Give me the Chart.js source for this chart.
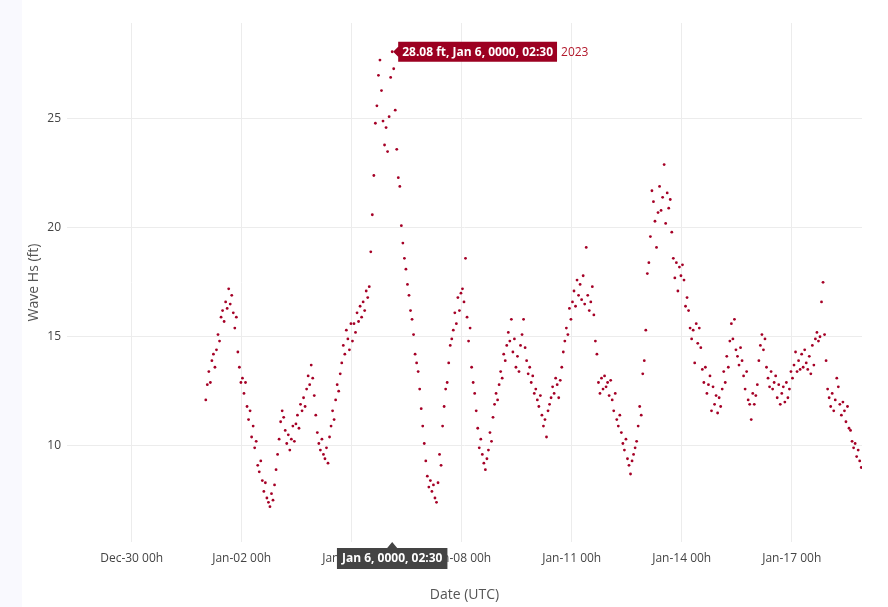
<!DOCTYPE html>
<html><head><meta charset="utf-8">
<script src="https://cdn.jsdelivr.net/npm/chart.js@4"></script>
<style>
html,body{margin:0;padding:0;background:#f9f9fe;width:888px;height:607px;overflow:hidden}
#wrap{position:absolute;left:22px;top:0;width:866px;height:607px;background:#fff}
</style></head><body>
<div id="wrap"><canvas id="c" width="866" height="607"></canvas></div>
<script>
// Hourly wave Hs (ft), starting Jan 1 00:30 UTC, one array per day
const day01=[12.1,12.8,13.4,12.9,13.9,14.2,13.6,14.4,15.1,14.8,15.9,16.2,15.7,16.6,16.3,17.2,16.5,16.9,16.1,15.4,15.9,14.3,13.6,12.9];
const day02=[13.1,12.4,12.9,11.8,11.2,11.6,10.4,10.9,9.9,10.2,9.1,8.8,9.3,8.4,7.9,8.3,7.6,7.4,7.2,7.8,7.5,8.2,8.9,9.6];
const day03=[10.3,11.1,11.6,11.3,10.7,10.1,10.5,9.8,10.3,10.9,10.2,11.0,11.4,10.8,11.9,11.6,12.2,11.8,12.6,13.2,12.8,13.7,13.1,12.3];
const day04=[11.4,10.6,10.1,9.8,10.3,9.6,9.4,9.9,9.2,10.4,10.9,11.6,11.2,12.1,12.8,12.5,13.3,13.8,14.6,14.2,15.3,14.9,14.4,15.6];
const day05=[14.8,15.6,15.2,16.1,15.7,16.4,15.9,16.6,16.2,17.1,16.8,17.3,18.9,20.6,22.4,24.8,25.6,27.0,27.7,26.3,24.9,23.8,24.6,23.5];
const day06=[25.1,26.9,28.08,27.3,25.4,23.6,22.3,21.9,20.1,19.3,18.6,18.1,17.4,16.9,16.2,15.8,15.1,14.2,13.8,13.4,12.6,11.7,10.9,10.1];
const day07=[9.3,8.6,8.1,8.4,7.9,8.2,7.6,7.4,8.3,9.6,9.1,10.9,11.8,12.6,12.9,13.8,14.6,14.9,15.3,16.1,15.6,16.8,16.2,17.0];
const day08=[17.2,16.6,18.6,15.9,14.8,15.4,13.6,12.9,12.4,11.6,10.8,9.9,10.3,9.6,9.2,8.9,9.4,9.8,10.6,10.2,11.3,11.9,12.4,12.1];
const day09=[12.8,13.4,13.1,14.2,13.9,14.6,15.2,14.8,15.8,14.3,14.9,13.6,14.1,13.4,14.6,15.1,15.8,14.5,13.9,13.3,13.6,12.9,13.2,12.4];
const day10=[12.6,12.1,11.8,12.3,11.4,10.9,11.2,10.4,11.6,11.9,12.2,12.7,12.4,13.1,12.8,12.2,13.0,13.6,14.3,14.8,15.4,15.1,16.3,15.8];
const day11=[16.6,17.1,16.4,17.6,16.9,17.4,16.7,17.8,16.5,19.1,16.9,16.2,16.6,17.3,16.0,14.8,14.2,12.9,12.4,13.1,12.6,13.2,12.7,12.9];
const day12=[12.3,13.0,12.1,11.6,12.4,11.2,10.9,11.4,10.6,10.1,9.8,10.3,9.4,9.1,8.7,9.3,9.6,9.9,10.2,10.9,11.8,11.4,13.3,13.9];
const day13=[15.3,17.9,18.4,19.6,21.7,21.2,20.3,19.1,20.7,21.9,20.8,21.4,22.9,20.2,21.6,20.9,21.3,19.8,18.6,17.7,18.4,17.1,18.2,17.8];
const day14=[18.3,17.6,16.4,16.8,16.2,15.4,14.9,15.3,13.8,15.6,14.7,15.4,14.5,13.5,12.9,13.6,12.4,12.8,13.2,11.6,12.7,11.9,12.3,11.5];
const day15=[12.2,11.8,12.6,13.4,12.9,14.1,13.6,14.8,15.6,14.9,15.8,14.4,14.1,13.7,14.5,13.9,13.2,12.6,13.4,12.1,11.9,11.2,12.4,11.9];
const day16=[12.3,12.8,13.9,14.6,15.1,14.4,14.9,13.6,13.1,12.7,13.4,12.6,12.9,13.2,12.2,12.8,11.9,12.4,12.7,12.0,12.9,12.2,12.6,13.4];
const day17=[13.1,13.7,14.3,13.4,13.9,13.5,14.2,13.6,14.4,13.8,13.5,14.1,13.3,14.6,13.7,14.9,15.2,14.8,15.0,16.6,17.5,15.1,13.9,12.6];
const day18=[12.2,11.8,12.4,11.6,12.1,13.1,12.7,11.9,11.4,12.0,11.6,11.1,11.8,10.8,10.7,10.2,9.9,10.1,9.5,9.8,9.3,9.0];
const xTickLabels=['Dec-30 00h','Jan-02 00h','Jan-05 00h','Jan-08 00h','Jan-11 00h','Jan-14 00h','Jan-17 00h'];
const yTickValues=[10,15,20,25];

const H=3600e3, D=24*H;
const start=Date.UTC(2023,0,1,0,30);
const all=[].concat(day01,day02,day03,day04,day05,day06,day07,day08,day09,day10,day11,day12,day13,day14,day15,day16,day17,day18);
const pts=all.map((v,i)=>({x:start+i*H,y:v}));
const dec30=Date.UTC(2022,11,30);
const xTicks=xTickLabels.map((l,i)=>dec30+i*3*D);
const peakIdx=all.indexOf(Math.max(...all));

const hover={id:'hover',afterDraw(ch){
  const c=ch.ctx, p=ch.getDatasetMeta(0).data[peakIdx];
  const x=p.x,y=p.y;
  c.save();
  c.font='bold 12px "Open Sans", Arial';
  const t='28.08 ft, Jan 6, 0000, 02:30';
  const w=c.measureText(t).width+8;
  c.fillStyle='#9c0021';
  c.beginPath();c.moveTo(x+1,y);c.lineTo(x+6,y-5);c.lineTo(x+6,y-10);c.lineTo(x+6+w,y-10);
  c.lineTo(x+6+w,y+10);c.lineTo(x+6,y+10);c.lineTo(x+6,y+5);c.closePath();c.fill();
  c.fillStyle='#fff';c.textBaseline='middle';c.fillText(t,x+10,y+1);
  c.font='12px "Open Sans", Arial';c.fillStyle='#b2182b';c.fillText('2023',x+10+w,y+1);
  const bt='Jan 6, 0000, 02:30';
  c.font='bold 12px "Open Sans", Arial';
  const bw=c.measureText(bt).width+10, by=ch.chartArea.bottom;
  c.fillStyle='#444';
  c.beginPath();c.moveTo(x,by);c.lineTo(x+5,by+6);c.lineTo(x+bw/2,by+6);c.lineTo(x+bw/2,by+27);
  c.lineTo(x-bw/2,by+27);c.lineTo(x-bw/2,by+6);c.lineTo(x-5,by+6);c.closePath();c.fill();
  c.fillStyle='#fff';c.textAlign='center';c.fillText(bt,x,by+17);
  c.restore();
}};

new Chart(document.getElementById('c'),{
  type:'scatter',
  data:{datasets:[{data:pts,backgroundColor:'#a50026',borderColor:'#a50026',pointRadius:1.4,pointBorderWidth:0}]},
  options:{responsive:false,animation:false,
    layout:{padding:{left:0,top:23,right:26,bottom:0}},
    plugins:{legend:{display:false},tooltip:{enabled:false}},
    scales:{
      x:{type:'linear',min:Date.UTC(2022,11,28,5,40),max:Date.UTC(2023,0,18,22,0),
        afterBuildTicks(s){s.ticks=xTicks.map(v=>({value:v}));},
        afterFit(s){s.height=65;},
        border:{display:false},grid:{color:'#ececec',drawTicks:false},
        ticks:{padding:9,maxRotation:0,autoSkip:false,color:'#444',font:{family:'Open Sans',size:12},
          callback:(v)=>xTickLabels[xTicks.indexOf(v)]},
        title:{display:true,text:'Date (UTC)',color:'#555',font:{family:'Open Sans',size:14},padding:{top:14}}},
      y:{min:5.58,max:29.4,
        afterBuildTicks(s){s.ticks=yTickValues.map(v=>({value:v}));},
        afterFit(s){s.width=45;},
        border:{display:false},grid:{color:'#ececec',drawTicks:false},
        ticks:{padding:6,color:'#444',font:{family:'Open Sans',size:12}},
        title:{display:true,text:'Wave Hs (ft)',color:'#555',font:{family:'Open Sans',size:14},padding:{bottom:2}}}
    }},
  plugins:[hover]
});
</script></body></html>
